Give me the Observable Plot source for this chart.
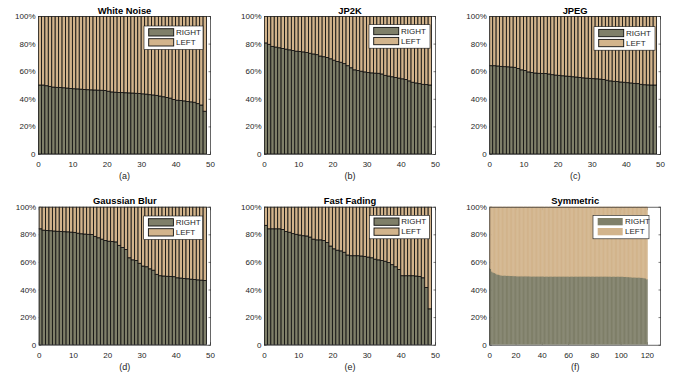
<!DOCTYPE html>
<html><head><meta charset="utf-8">
<script src="https://cdn.jsdelivr.net/npm/d3@7"></script>
<script src="https://cdn.jsdelivr.net/npm/@observablehq/plot@0.6"></script>
<style>
body{margin:0;background:#fff;}
#fig{position:relative;width:689px;height:377px;font-family:"Liberation Sans",Arial,Helvetica,sans-serif;}
#fig svg{position:absolute;overflow:visible;}
</style></head><body><div id="fig"></div>
<script>
const seriesNames = ["RIGHT", "LEFT"];
const seriesColors = ["#7f7f69", "#d2b48c"];
const titles = ["White Noise", "JP2K", "JPEG", "Gaussian Blur", "Fast Fading", "Symmetric"];
const captions = ["(a)", "(b)", "(c)", "(d)", "(e)", "(f)"];

// share of RIGHT (%) per bar; LEFT = 100 - RIGHT
const whiteNoise = [50, 50, 49.5, 49, 48.5, 48.3, 48.2, 48, 47.8, 47.5, 47.3, 47.2, 47, 46.8, 46.6, 46.5, 46.4, 46.3, 46.2, 46, 45.5, 45, 44.8, 44.6, 44.5, 44.4, 44.3, 44.2, 44, 43.8, 43.6, 43.4, 43, 42.8, 42.5, 42, 41.5, 41, 40.5, 39.5, 39, 38.8, 38.5, 38, 37.8, 37.5, 36.5, 35.5, 31];
const jp2k = [80.5, 79.5, 78, 77.5, 77, 76.5, 76, 75.5, 75, 74.5, 74.3, 74, 73.5, 73, 72.5, 72, 71, 70.5, 70, 69, 68, 67, 66.5, 65.5, 64, 62.5, 61, 60.5, 60, 59.5, 59, 58.8, 58.6, 58.5, 58, 57, 56.5, 56, 55.5, 55, 54.5, 54, 53, 52, 51.5, 51, 50.5, 50.3, 50];
const jpeg = [64, 64, 63.8, 63.5, 63.3, 63.2, 63, 62.8, 62, 61, 60.5, 59.5, 59, 58.7, 58.5, 58.4, 58.3, 58, 57.5, 57.2, 57, 56.7, 56.5, 56.3, 56, 55.8, 55.5, 55.2, 55, 54.8, 54.6, 54.5, 54.3, 54, 53.5, 53, 52.7, 52.5, 52.2, 52, 51.7, 51.5, 51.2, 51, 50.5, 50.2, 50.1, 50, 50];
const gaussianBlur = [84, 83, 82.8, 82.6, 82.4, 82.2, 82, 81.9, 81.8, 81.6, 81.4, 80.8, 80.4, 80.2, 80, 79.8, 78.5, 77.5, 76.5, 75.5, 75, 74.8, 74.5, 72, 70.5, 69, 63, 61.5, 61, 59, 57, 56.5, 55, 54, 51, 50, 49.8, 49.6, 49.5, 49.3, 48.5, 48.3, 48, 47.8, 47.5, 47.3, 47, 46.8, 46.5];
const fastFading = [86.5, 84, 84, 84, 84, 83.5, 82, 81.5, 80.5, 80, 79.5, 79, 78.8, 78, 76.5, 76, 76, 75.5, 74, 71.5, 69.5, 68.5, 68, 67, 65, 64.5, 64.5, 64.5, 64.3, 64, 63.5, 63, 62, 61.5, 61, 60.5, 59.5, 58, 56.5, 54.5, 50, 50, 50, 50, 49.8, 49.5, 48.5, 41.5, 26];
const symmetric = [55.5, 55, 53, 52.5, 52, 51.5, 51, 50.8, 50.5, 50.3, 50.2,
  50.1, 50.1, 50, 50, 49.9, 49.9, 49.9, 49.8, 49.8, 49.8,
  49.7, 49.7, 49.7, 49.7, 49.7, 49.7, 49.7, 49.7, 49.7, 49.7,
  49.6, 49.6, 49.6, 49.6, 49.6, 49.6, 49.6, 49.6, 49.6, 49.6,
  49.6, 49.5, 49.5, 49.5, 49.5, 49.5, 49.5, 49.5, 49.5, 49.5,
  49.5, 49.5, 49.5, 49.5, 49.5, 49.5, 49.5, 49.5, 49.5, 49.5,
  49.5, 49.5, 49.5, 49.5, 49.5, 49.5, 49.5, 49.5, 49.5, 49.5,
  49.5, 49.5, 49.5, 49.5, 49.5, 49.5, 49.5, 49.5, 49.5, 49.5,
  49.5, 49.5, 49.5, 49.5, 49.5, 49.5, 49.5, 49.5, 49.5, 49.5,
  49.4, 49.4, 49.4, 49.4, 49.4, 49.4, 49.4, 49.4, 49.4, 49.4,
  49.3, 49.3, 49.2, 49.2, 49.1, 49.1, 49, 49, 48.9, 48.9,
  48.8, 48.8, 48.7, 48.7, 48.6, 48.5, 48.4, 48.3, 48.2, 47.5];

const panelValues = [whiteNoise, jp2k, jpeg, gaussianBlur, fastFading, symmetric];
const xStart = [0.5, 0.5, 0.5, 0.5, 0.5, 0];   // x position of the first bar's centre
const xTicks50 = [0, 10, 20, 30, 40, 50];
const xTicks130 = [0, 20, 40, 60, 80, 100, 120];
const xDomains = [[0, 50], [0, 50], [0, 50], [0, 50], [0, 50], [0, 130]];
const yTicks = [0, 20, 40, 60, 80, 100];
const yTickLabels = ["0", "20%", "40%", "60%", "80%", "100%"];

// layout (pixels)
const layout = [
  {left: 0,   top: 0,   w: 230, h: 190, ml: 38,   mr: 20, mt: 16,   mb: 36,   lgR: 7,  lgT: 10,  lgW: 59},
  {left: 230, top: 0,   w: 230, h: 190, ml: 34,   mr: 25, mt: 16,   mb: 36,   lgR: 5,  lgT: 8.7, lgW: 61},
  {left: 460, top: 0,   w: 229, h: 190, ml: 29.3, mr: 29, mt: 16,   mb: 36,   lgR: 5,  lgT: 10.7,lgW: 61},
  {left: 0,   top: 190, w: 230, h: 187, ml: 38.7, mr: 20, mt: 16.7, mb: 32.3, lgR: 7.3,lgT: 9.3, lgW: 59},
  {left: 230, top: 190, w: 230, h: 187, ml: 34,   mr: 25, mt: 16.7, mb: 32.3, lgR: 5.7,lgT: 8.6, lgW: 60},
  {left: 460, top: 190, w: 229, h: 187, ml: 29.3, mr: 29, mt: 16.7, mb: 32.3, lgR: 11, lgT: 8.6, lgW: 56}
];

const axisColor = "#262626";
const fontFamily = '"Liberation Sans", Arial, Helvetica, sans-serif';
const fig = document.getElementById("fig");

panelValues.forEach((vals, p) => {
  const L = layout[p];
  const rows = vals.map((v, i) => ({x1: xStart[p] + i - 0.5, x2: xStart[p] + i + 0.5, right: v}));
  const dense = p === 5;
  const edge = dense ? {strokeWidth: 0.4} : {stroke: "#111", strokeWidth: 0.85};
  const xt = p === 5 ? xTicks130 : xTicks50;
  const svg = Plot.plot({
    width: L.w, height: L.h,
    marginLeft: L.ml, marginRight: L.mr, marginTop: L.mt, marginBottom: L.mb,
    style: {fontFamily, fontSize: "8px", color: axisColor, background: "transparent", overflow: "visible"},
    x: {domain: xDomains[p]},
    y: {domain: [0, 100]},
    marks: [
      // inward ticks on all four sides (behind the bars, like MATLAB's default layer)
      Plot.axisY({anchor: "right", ticks: yTicks, tickSize: 2.5, dx: -2.5, tickFormat: () => "", label: null, strokeWidth: 0.6}),
      Plot.axisY({anchor: "left", ticks: yTicks, tickSize: 2.5, dx: 2.5, tickFormat: () => "", label: null, strokeWidth: 0.6}),
      Plot.axisX({anchor: "bottom", ticks: xt, tickSize: 2.5, dy: -2.5, tickFormat: () => "", label: null, strokeWidth: 0.6}),
      Plot.axisX({anchor: "top", ticks: xt, tickSize: 2.5, dy: 2.5, tickFormat: () => "", label: null, strokeWidth: 0.6}),
      Plot.rectY(rows, {x1: "x1", x2: "x2", y1: 0, y2: "right", fill: seriesColors[0], stroke: dense ? seriesColors[0] : "#111", clip: true, ...edge}),
      Plot.rectY(rows, {x1: "x1", x2: "x2", y1: "right", y2: 100, fill: seriesColors[1], stroke: dense ? seriesColors[1] : "#111", clip: true, ...edge}),
      Plot.frame({stroke: axisColor, strokeWidth: 0.7}),
      Plot.axisX({anchor: "bottom", ticks: xt, tickSize: 0, tickPadding: 7, label: null}),
      Plot.axisY({anchor: "left", ticks: yTicks, tickSize: 0, tickPadding: 3, tickFormat: d => yTickLabels[yTicks.indexOf(d)], label: null}),
      Plot.text([titles[p]], {frameAnchor: "top", lineAnchor: "middle", dy: -6, fontWeight: "bold", fontSize: 9.4, fill: "#000"}),
      Plot.text([captions[p]], {frameAnchor: "bottom", lineAnchor: "middle", dy: 22, fontSize: 9, fill: axisColor})
    ]
  });
  svg.style.left = L.left + "px";
  svg.style.top = L.top + "px";
  fig.appendChild(svg);

  // legend box (upper right, inside the axes)
  const plotRight = L.w - L.mr;
  const lx = plotRight - L.lgR - L.lgW, ly = L.mt + L.lgT, lh = 23.5;
  const g = d3.select(svg).append("g").attr("class", "legend")
    .attr("font-family", fontFamily).attr("text-anchor", "start");
  g.append("rect").attr("x", lx).attr("y", ly).attr("width", L.lgW).attr("height", lh)
    .attr("fill", "#fff").attr("stroke", "#111").attr("stroke-width", 0.6);
  seriesNames.forEach((name, k) => {
    const sy = ly + 2.7 + k * 10;
    g.append("rect").attr("x", lx + 4.7).attr("y", sy).attr("width", 25).attr("height", 7.3)
      .attr("fill", seriesColors[k]).attr("stroke", dense ? "none" : "#111").attr("stroke-width", 0.9);
    g.append("text").attr("x", lx + 32).attr("y", sy + 3.65).attr("dy", "0.35em")
      .attr("font-size", 8).attr("fill", axisColor).attr("text-anchor", "start").text(name);
  });
});
</script></body></html>
